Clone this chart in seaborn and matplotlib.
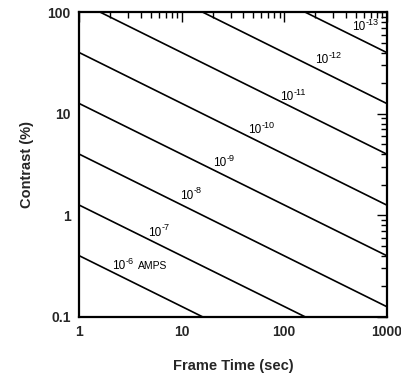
import matplotlib
matplotlib.use("Agg")
import matplotlib.pyplot as plt
import seaborn as sns
import pandas as pd
from matplotlib.ticker import LogLocator, FixedLocator, NullFormatter

sns.set_theme(style="white")
plt.rcParams['font.family'] = ['Liberation Sans', 'DejaVu Sans']

# Beam current for each line (exponent of 10, amps)
current_exp = [-6, -7, -8, -9, -10, -11, -12, -13]
# Each line is straight on log-log axes: start and end points
t_start = [1, 1, 1, 1, 1, 1.6, 16, 160]
c_start = [0.4, 1.26, 4.0, 12.6, 40, 100, 100, 100]
t_end = [16, 160, 1000, 1000, 1000, 1000, 1000, 1000]
c_end = [0.1, 0.1, 0.126, 0.4, 1.26, 4.0, 12.6, 40]
# Label positions (left edge of the label, data coords)
label_t = [2.09, 4.7, 9.6, 20.2, 44, 91, 200, 459]
label_c = [0.316, 0.67, 1.55, 3.27, 6.9, 14.6, 33.7, 71]

x_ticks = [1, 10, 100, 1000]
x_ticklabels = ['1', '10', '100', '1000']
y_ticks = [0.1, 1, 10, 100]
y_ticklabels = ['0.1', '1', '10', '100']

rows = []
for e, t0, c0, t1, c1 in zip(current_exp, t_start, c_start, t_end, c_end):
    rows.append({'current': e, 't': t0, 'c': c0})
    rows.append({'current': e, 't': t1, 'c': c1})
df = pd.DataFrame(rows)

fig = plt.figure(figsize=(4.02, 3.79), dpi=100)
ax = fig.add_axes([0.197, 0.164, 0.765, 0.804])
ax.set_facecolor('white')
fig.patch.set_facecolor('white')

sns.lineplot(data=df, x='t', y='c', units='current', estimator=None,
             color='black', linewidth=1.2, legend=False, ax=ax, sort=False)

ax.set_xscale('log')
ax.set_yscale('log')
ax.set_xlim(1, 1000)
ax.set_ylim(0.1, 100)

ax.xaxis.set_major_locator(FixedLocator(x_ticks))
ax.set_xticklabels(x_ticklabels)
ax.yaxis.set_major_locator(FixedLocator(y_ticks))
ax.set_yticklabels(y_ticklabels)
ax.xaxis.set_minor_locator(LogLocator(base=10, subs=range(2, 10)))
ax.yaxis.set_minor_locator(LogLocator(base=10, subs=range(2, 10)))
ax.xaxis.set_minor_formatter(NullFormatter())
ax.yaxis.set_minor_formatter(NullFormatter())

ax.tick_params(which='both', direction='in', top=True, right=True,
               color='black', width=1.0)
ax.tick_params(which='major', length=7, labelsize=10, pad=6)
ax.tick_params(which='minor', length=4)
for lab in ax.get_xticklabels() + ax.get_yticklabels():
    lab.set_fontweight('bold')

for sp in ax.spines.values():
    sp.set_color('black')
    sp.set_linewidth(1.6)

for i, (e, t, c) in enumerate(zip(current_exp, label_t, label_c)):
    base = ax.text(t, c, '10', fontsize=8.5, ha='left', va='center', color='black')
    ax.annotate('-%d' % (-e), xy=(1, 1), xycoords=base, xytext=(0.3, 2.5),
                textcoords='offset points', fontsize=6.5, ha='left', va='top',
                color='black')
    if i == 0:
        ax.annotate('AMPS', xy=(1, 0.5), xycoords=base, xytext=(9.5, 0),
                    textcoords='offset points', fontsize=7.5, ha='left',
                    va='center', color='black')

ax.set_xlabel('Frame Time (sec)', fontsize=10.5, fontweight='bold', labelpad=14)
ax.set_ylabel('Contrast (%)', fontsize=10.5, fontweight='bold', labelpad=10)

fig.savefig('out.png', dpi=100, facecolor='white')
